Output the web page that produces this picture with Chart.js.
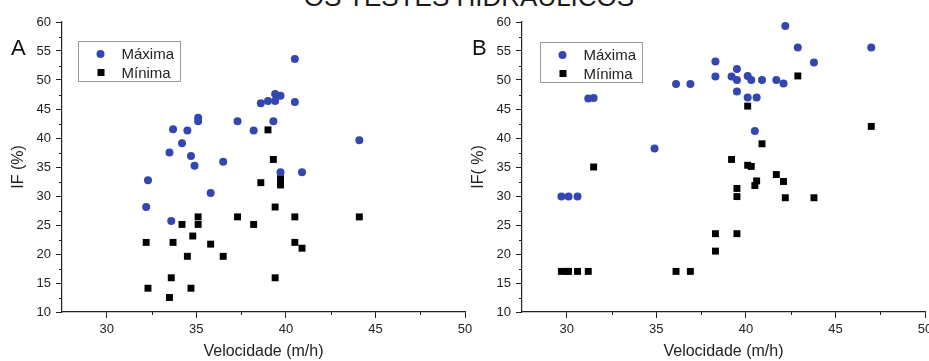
<!DOCTYPE html>
<html>
<head>
<meta charset="utf-8">
<script src="https://cdn.jsdelivr.net/npm/chart.js@4"></script>
<style>
  html, body { margin: 0; padding: 0; background: #fff; overflow: hidden; }
  body { width: 929px; height: 361px; position: relative; font-family: "Liberation Sans", Arial, sans-serif; }
  .panel { position: absolute; top: 0; width: 480px; height: 361px; }
  #heading { position: absolute; left: 9px; width: 920px; top: -16px; text-align: center;
             font-size: 26px; line-height: 26px; color: #1a1a1a; white-space: nowrap; }
</style>
</head>
<body>
<div id="heading">OS TESTES HIDRÁULICOS</div>
<div class="panel" style="left:0"><canvas id="chartA" width="480" height="361"></canvas></div>
<div class="panel" style="left:460px"><canvas id="chartB" width="480" height="361"></canvas></div>
<script>
// axis ticks
const xTicks = [30, 35, 40, 45, 50];
const yTicks = [10, 15, 20, 25, 30, 35, 40, 45, 50, 55, 60];

// A: velocidade x IF
const velA_max = [40.5, 39.4, 39.7, 39.0, 38.6, 39.4, 40.5, 35.1, 35.1, 37.3, 39.3, 33.7, 34.5,
                  38.2, 34.2, 44.1, 33.5, 34.7, 34.9, 36.5, 39.7, 40.9, 32.3, 35.8, 32.2, 33.6];
const ifA_max  = [53.6, 47.6, 47.3, 46.4, 46.0, 46.4, 46.2, 43.5, 42.9, 42.9, 42.9, 41.5, 41.3,
                  41.3, 39.1, 39.6, 37.5, 36.9, 35.2, 35.9, 34.1, 34.1, 32.7, 30.5, 28.1, 25.7];
const velA_min = [39.0, 39.3, 39.7, 38.6, 39.7, 39.4, 35.1, 37.3, 40.5, 44.1, 34.2, 35.1, 38.2,
                  34.8, 32.2, 33.7, 40.5, 35.8, 40.9, 34.5, 36.5, 33.6, 39.4, 32.3, 34.7, 33.5];
const ifA_min  = [41.4, 36.3, 33.0, 32.3, 31.9, 28.1, 26.4, 26.4, 26.4, 26.4, 25.1, 25.1, 25.1,
                  23.1, 22.0, 22.0, 22.0, 21.7, 21.0, 19.6, 19.6, 15.9, 15.9, 14.1, 14.1, 12.5];

// B
const velB_max = [42.2, 42.9, 47.0, 38.3, 43.8, 39.5, 38.3, 39.2, 40.1, 39.5, 40.3, 40.9, 41.7,
                  42.1, 36.1, 36.9, 39.5, 40.1, 40.6, 31.2, 31.5, 40.5, 34.9, 29.7, 30.1, 30.6];
const ifB_max  = [59.3, 55.6, 55.6, 53.2, 53.0, 51.9, 50.6, 50.6, 50.7, 50.0, 50.0, 50.0, 50.0,
                  49.4, 49.3, 49.3, 48.0, 47.0, 47.0, 46.8, 46.9, 41.2, 38.2, 29.9, 29.9, 29.9];
const velB_min = [42.9, 40.1, 47.0, 40.9, 39.2, 40.1, 40.3, 31.5, 41.7, 40.6, 40.5, 42.1, 39.5,
                  39.5, 42.2, 43.8, 38.3, 39.5, 38.3, 29.7, 30.0, 30.1, 30.6, 31.2, 36.1, 36.9];
const ifB_min  = [50.7, 45.5, 42.0, 39.0, 36.3, 35.3, 35.1, 35.0, 33.7, 32.6, 31.8, 32.5, 31.3,
                  29.9, 29.7, 29.7, 23.5, 23.5, 20.5, 17.0, 17.0, 17.0, 17.0, 17.0, 17.0, 17.0];

const BLUE = '#3446b0';
const INK = '#222';

const pairs = (xs, ys) => xs.map((x, i) => ({ x, y: ys[i] }));

// short ticks halfway between the labelled ones, on both axes
const minorTicks = {
  id: 'minorTicks',
  afterDraw(chart) {
    const ctx = chart.ctx;
    const xs = chart.scales.x, ys = chart.scales.y;
    ctx.save();
    ctx.strokeStyle = INK;
    ctx.lineWidth = 1;
    ctx.beginPath();
    for (let i = 0; i < xTicks.length - 1; i++) {
      const px = Math.round(xs.getPixelForValue((xTicks[i] + xTicks[i + 1]) / 2)) + 0.5;
      ctx.moveTo(px, xs.top);
      ctx.lineTo(px, xs.top + 3);
    }
    for (let i = 0; i < yTicks.length - 1; i++) {
      const py = Math.round(ys.getPixelForValue((yTicks[i] + yTicks[i + 1]) / 2)) + 0.5;
      ctx.moveTo(ys.right, py);
      ctx.lineTo(ys.right - 3, py);
    }
    ctx.stroke();
    ctx.restore();
  }
};

// boxed legend inside the plot and the panel letter
const panelDecor = {
  id: 'panelDecor',
  afterDraw(chart, args, opts) {
    const ctx = chart.ctx;
    const area = chart.chartArea;
    ctx.save();
    ctx.fillStyle = '#111';
    ctx.font = '22px "Liberation Sans", Arial, sans-serif';
    ctx.textBaseline = 'alphabetic';
    ctx.fillText(opts.letter, opts.letterX, 55);

    const bx = Math.round(area.left + opts.dx) + 0.5;
    const by = Math.round(area.top + opts.dy) + 0.5;
    ctx.strokeStyle = '#9a9a9a';
    ctx.lineWidth = 1;
    ctx.strokeRect(bx, by, 102, 40);
    ctx.font = '15px "Liberation Sans", Arial, sans-serif';
    ctx.textBaseline = 'middle';
    chart.data.datasets.forEach((ds, i) => {
      const cy = by + 12.5 + i * 18.5;
      ctx.fillStyle = ds.backgroundColor;
      if (ds.pointStyle === 'rect') {
        ctx.fillRect(bx + 19, cy - 3.5, 7, 7);
      } else {
        ctx.beginPath();
        ctx.arc(bx + 22, cy, 4, 0, Math.PI * 2);
        ctx.fill();
      }
      ctx.fillStyle = INK;
      ctx.fillText(ds.label, bx + 43, cy + 1);
    });
    ctx.restore();
  }
};

function makePanel(id, maxPts, minPts, yTitle, decor) {
  new Chart(document.getElementById(id), {
    type: 'scatter',
    data: {
      datasets: [
        { label: 'Máxima', data: maxPts, pointStyle: 'circle', pointRadius: 4,
          backgroundColor: BLUE, borderWidth: 0 },
        { label: 'Mínima', data: minPts, pointStyle: 'rect', pointRadius: 4.9,
          backgroundColor: '#000', borderWidth: 0 }
      ]
    },
    options: {
      responsive: false,
      animation: false,
      events: [],
      layout: { padding: { top: 22, right: 15, bottom: 0, left: 0 } },
      scales: {
        x: {
          type: 'linear', min: 27.5, max: 50,
          afterBuildTicks: s => { s.ticks = xTicks.map(v => ({ value: v })); },
          afterFit: s => { s.height = 49; },
          grid: { drawOnChartArea: false, tickLength: 6, tickColor: INK },
          border: { color: INK, width: 1.2 },
          ticks: { color: INK, padding: 4, maxRotation: 0,
                   font: { family: '"Liberation Sans", Arial, sans-serif', size: 13 } },
          title: { display: true, text: 'Velocidade (m/h)', color: INK, padding: 0,
                   font: { family: '"Liberation Sans", Arial, sans-serif', size: 16 } }
        },
        y: {
          type: 'linear', min: 10, max: 60,
          afterBuildTicks: s => { s.ticks = yTicks.map(v => ({ value: v })); },
          afterFit: s => { s.width = 62; },
          grid: { drawOnChartArea: false, tickLength: 6, tickColor: INK },
          border: { color: INK, width: 1.2 },
          ticks: { color: INK, padding: 5,
                   font: { family: '"Liberation Sans", Arial, sans-serif', size: 13 } },
          title: { display: true, text: yTitle, color: INK, padding: { top: 9, bottom: 0 },
                   font: { family: '"Liberation Sans", Arial, sans-serif', size: 16 } }
        }
      },
      plugins: {
        legend: { display: false },
        tooltip: { enabled: false },
        panelDecor: decor
      }
    },
    plugins: [minorTicks, panelDecor]
  });
}

makePanel('chartA', pairs(velA_max, ifA_max), pairs(velA_min, ifA_min), 'IF (%)',
          { letter: 'A', letterX: 11, dx: 15.5, dy: 18.7 });
makePanel('chartB', pairs(velB_max, ifB_max), pairs(velB_min, ifB_min), 'IF( %)',
          { letter: 'B', letterX: 12, dx: 17.6, dy: 20 });
</script>
</body>
</html>
